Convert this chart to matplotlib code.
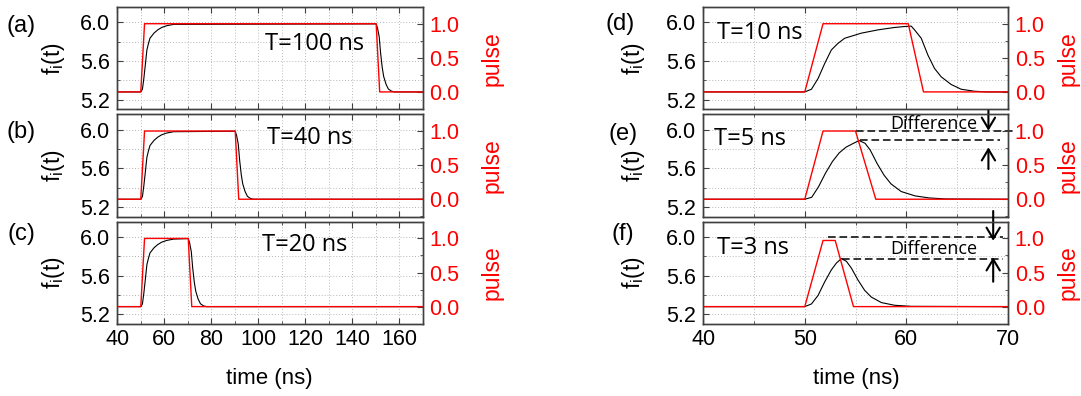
import matplotlib
matplotlib.use('Agg')
import matplotlib.pyplot as plt
from matplotlib.ticker import MultipleLocator

plt.rcParams['font.family'] = ['Liberation Sans', 'DejaVu Sans']

# ---- data ----
# f_i(t) curves (black, left axis) and pulse (red, right axis)

# (a) T=100 ns
t_a = [40, 50, 50.7, 51.3, 52.0, 52.6, 53.3, 53.9, 55.6, 57.2, 58.9, 61, 64,
       150.2, 150.8, 151.5, 152.1, 152.8, 153.4, 154.4, 155.4, 156.7, 158, 170]
f_a = [5.28, 5.28, 5.308, 5.419, 5.576, 5.715, 5.784, 5.836, 5.889, 5.923, 5.948, 5.966, 5.98,
       5.985, 5.94, 5.85, 5.68, 5.53, 5.44, 5.36, 5.31, 5.288, 5.28, 5.28]
pt_a = [40, 50, 51.6, 150.2, 151.7, 170]
p_a = [0, 0, 1, 1, 0, 0]

# (b) T=40 ns
t_b = [40, 50, 50.7, 51.3, 52.0, 52.6, 53.3, 53.9, 55.6, 57.2, 58.9, 61, 64,
       90.2, 90.8, 91.5, 92.1, 92.8, 93.4, 94.4, 95.4, 96.7, 98, 170]
f_b = [5.28, 5.28, 5.308, 5.419, 5.576, 5.715, 5.784, 5.836, 5.889, 5.923, 5.948, 5.966, 5.98,
       5.985, 5.94, 5.85, 5.68, 5.53, 5.44, 5.36, 5.31, 5.288, 5.28, 5.28]
pt_b = [40, 50, 51.6, 90.2, 91.7, 170]
p_b = [0, 0, 1, 1, 0, 0]

# (c) T=20 ns
t_c = [40, 50, 50.7, 51.3, 52.0, 52.6, 53.3, 53.9, 55.6, 57.2, 58.9, 61, 64,
       70.2, 70.8, 71.5, 72.1, 72.8, 73.4, 74.4, 75.4, 76.7, 78, 170]
f_c = [5.28, 5.28, 5.308, 5.419, 5.576, 5.715, 5.784, 5.836, 5.889, 5.923, 5.948, 5.966, 5.98,
       5.985, 5.94, 5.85, 5.68, 5.53, 5.44, 5.36, 5.31, 5.288, 5.28, 5.28]
pt_c = [40, 50, 51.6, 70.2, 71.7, 170]
p_c = [0, 0, 1, 1, 0, 0]

# (d) T=10 ns
t_d = [40, 50, 50.66, 51.31, 51.97, 52.62, 53.28, 53.93, 55.57, 57.21, 58.85, 59.84,
       60.49, 60.82, 61.48, 62.13, 62.79, 63.44, 64.43, 65.41, 66.72, 68, 70]
f_d = [5.28, 5.28, 5.308, 5.419, 5.576, 5.715, 5.784, 5.836, 5.889, 5.923, 5.948, 5.958,
       5.962, 5.923, 5.836, 5.663, 5.523, 5.437, 5.357, 5.308, 5.287, 5.28, 5.28]
pt_d = [40, 50, 51.8, 60.2, 61.7, 70]
p_d = [0, 0, 1, 1, 0, 0]

# (e) T=5 ns
t_e = [40, 50, 50.68, 51.36, 52.04, 52.72, 53.39, 54.07, 54.75, 55.36, 55.94, 56.45,
       57.13, 57.81, 58.49, 59.5, 60.86, 62.22, 63.9, 70]
f_e = [5.28, 5.28, 5.30, 5.41, 5.55, 5.67, 5.76, 5.82, 5.857, 5.888, 5.86, 5.79,
       5.65, 5.53, 5.44, 5.36, 5.315, 5.294, 5.283, 5.28]
pt_e = [40, 50, 51.8, 55, 57, 70]
p_e = [0, 0, 1, 1, 0, 0]

# (f) T=3 ns
t_f = [40, 50, 50.66, 51.31, 51.97, 52.62, 53.12, 53.61, 54.1, 54.59, 55.25, 55.9,
       56.56, 57.55, 58.86, 60.5, 70]
f_f = [5.28, 5.28, 5.308, 5.396, 5.538, 5.661, 5.732, 5.778, 5.75, 5.68, 5.555, 5.449,
       5.379, 5.322, 5.294, 5.283, 5.28]
pt_f = [40, 50, 51.8, 53, 54.8, 70]
p_f = [0, 0, 0.97, 0.97, 0, 0]

panel_letters = ['(a)', '(b)', '(c)', '(d)', '(e)', '(f)']
pulse_labels = ['T=100 ns', 'T=40 ns', 'T=20 ns', 'T=10 ns', 'T=5 ns', 'T=3 ns']

SPINE = '#404040'
GRID = '#b8b8b8'


def draw_panel(ax, t, f, pt, p, xlim, xmaj, xmin, bottom_row):
    ax.plot(t, f, color='black', lw=0.8)
    ax.set_xlim(xlim)
    ax.set_ylim(5.1, 6.16)
    ax.xaxis.set_major_locator(MultipleLocator(xmaj))
    ax.xaxis.set_minor_locator(MultipleLocator(xmin))
    ax.yaxis.set_minor_locator(MultipleLocator(0.2))
    ax.set_yticks([5.2, 5.6, 6.0])
    ax.set_yticklabels(['5.2', '5.6', '6.0'])
    ax.grid(which='both', color=GRID, ls=(0, (1, 2)), lw=0.7)
    ax.tick_params(which='both', direction='in', top=True, color=SPINE,
                   labelsize=15.5, labelbottom=bottom_row, pad=5)
    ax.tick_params(which='major', length=4)
    ax.tick_params(which='minor', length=2.5)
    ax.tick_params(axis='x', pad=3.5)
    ax.set_ylabel(r'f$\mathregular{_i}$(t)', fontsize=16.5)
    ax.yaxis.set_label_coords(-0.165, 0.5)

    ax2 = ax.twinx()
    ax2.plot(pt, p, color='#ff0000', lw=1.0)
    ax2.set_ylim(-0.255, 1.245)
    ax2.set_yticks([0.0, 0.5, 1.0])
    ax2.set_yticklabels(['0.0', '0.5', '1.0'])
    ax2.yaxis.set_minor_locator(MultipleLocator(0.25))
    ax2.tick_params(which='both', direction='in', color=SPINE, labelcolor='#ff0000',
                    labelsize=15.5, pad=5)
    ax2.tick_params(which='major', length=4)
    ax2.tick_params(which='minor', length=2.5)
    ax2.set_ylabel('pulse', color='#ff0000', fontsize=16.5)
    for a in (ax, ax2):
        for s in a.spines.values():
            s.set_color(SPINE)
            s.set_linewidth(1.0)
    return ax2


fig = plt.figure(figsize=(10.81, 3.96), dpi=100)

bottoms = [0.724, 0.453, 0.1818]
h = 0.2583

left_data = [(t_a, f_a, pt_a, p_a), (t_b, f_b, pt_b, p_b), (t_c, f_c, pt_c, p_c)]
right_data = [(t_d, f_d, pt_d, p_d), (t_e, f_e, pt_e, p_e), (t_f, f_f, pt_f, p_f)]

left_axes = []
right_axes = []
for i in range(3):
    ax = fig.add_axes([0.1085, bottoms[i], 0.2825, h])
    ax2 = draw_panel(ax, *left_data[i], (40, 170), 20, 10, i == 2)
    ax2.yaxis.set_label_coords(1.19, 0.5)
    left_axes.append(ax)
for i in range(3):
    ax = fig.add_axes([0.6506, bottoms[i], 0.2816, h])
    ax2 = draw_panel(ax, *right_data[i], (40, 70), 10, 5, i == 2)
    ax.yaxis.set_label_coords(-0.185, 0.5)
    ax2.yaxis.set_label_coords(1.162, 0.5)
    right_axes.append(ax)

# T=... labels inside panels
T_font = dict(family=['Open Sans', 'DejaVu Sans'], fontsize=17, va='center', ha='left')
left_axes[0].text(0.484, 0.638, pulse_labels[0], transform=left_axes[0].transAxes, **T_font)
left_axes[1].text(0.49, 0.771, pulse_labels[1], transform=left_axes[1].transAxes, **T_font)
left_axes[2].text(0.4725, 0.775, pulse_labels[2], transform=left_axes[2].transAxes, **T_font)
right_axes[0].text(0.044, 0.743, pulse_labels[3], transform=right_axes[0].transAxes, **T_font)
right_axes[1].text(0.035, 0.759, pulse_labels[4], transform=right_axes[1].transAxes, **T_font)
right_axes[2].text(0.044, 0.74, pulse_labels[5], transform=right_axes[2].transAxes, **T_font)

# panel letters
letter_pos = [(0.0199, 0.934), (0.0199, 0.667), (0.0199, 0.408),
              (0.574, 0.940), (0.576, 0.662), (0.576, 0.410)]
for lab, (x, y) in zip(panel_letters, letter_pos):
    fig.text(x, y, lab, fontsize=17, ha='center', va='center')

# x labels
fig.text(0.249, 0.043, 'time (ns)', fontsize=16, ha='center', va='center')
fig.text(0.7925, 0.043, 'time (ns)', fontsize=16, ha='center', va='center')

# "Difference" markers in (e) and (f)
dash = dict(color='black', lw=1.1, ls=(0, (5, 2.5)), clip_on=False)
arrow = dict(arrowstyle='->,head_length=0.5,head_width=0.3', color='black', lw=1.5,
             mutation_scale=16, shrinkA=0, shrinkB=0)
diff_font = dict(family=['Open Sans', 'DejaVu Sans'], fontsize=13, ha='left')

ax = right_axes[1]
ax.plot([55, 70.8], [5.99, 5.99], **dash)
ax.plot([55.4, 69.2], [5.894, 5.894], **dash)
ax.text(58.46, 6.005, 'Difference', va='baseline', **diff_font)
ax.annotate('', xy=(68.1, 5.99), xytext=(68.1, 6.197), arrowprops=arrow, annotation_clip=False)
ax.annotate('', xy=(68.1, 5.818), xytext=(68.1, 5.593), arrowprops=arrow, annotation_clip=False)

ax = right_axes[2]
ax.plot([52.3, 69.5], [5.998, 5.998], **dash)
ax.plot([53.7, 69.5], [5.777, 5.777], **dash)
ax.text(58.46, 5.88, 'Difference', va='center', **diff_font)
ax.annotate('', xy=(68.57, 5.963), xytext=(68.57, 6.271), arrowprops=arrow, annotation_clip=False)
ax.annotate('', xy=(68.57, 5.791), xytext=(68.57, 5.538), arrowprops=arrow, annotation_clip=False)

plt.savefig('out.png', dpi=100)
